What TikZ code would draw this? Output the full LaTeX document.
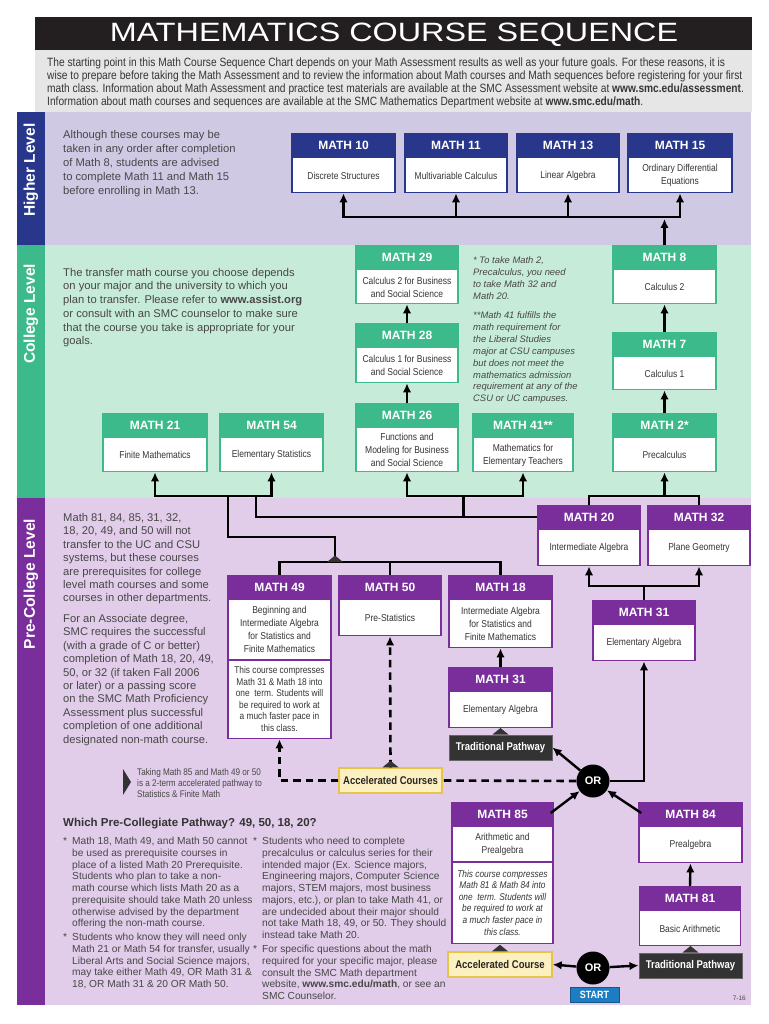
\documentclass[tikz,border=0pt]{standalone}
\usepackage{fontspec}
\usepackage{graphicx}
\setmainfont{Liberation Sans}
\newfontfamily\cond{Liberation Sans}[FakeStretch=0.85]
\usetikzlibrary{calc,arrows.meta}
\definecolor{hblue}{HTML}{28378C}
\definecolor{hfill}{HTML}{D0C9E4}
\definecolor{cgreen}{HTML}{3DBA8B}
\definecolor{cfill}{HTML}{C7EBD9}
\definecolor{ppurple}{HTML}{7A2E9C}
\definecolor{pfill}{HTML}{E1CDE9}
\definecolor{band}{HTML}{E6E6E6}
\definecolor{txt}{HTML}{474747}
\definecolor{desc}{HTML}{353535}
\definecolor{accfill}{HTML}{FDF0C0}
\definecolor{accline}{HTML}{E8C34A}
\definecolor{darkbox}{HTML}{333333}
\definecolor{startblue}{HTML}{1C7DC2}
\definecolor{titlebar}{HTML}{231F20}

\tikzset{
  cbox/.style={draw=#1, fill=white, line width=1.4pt, inner sep=0pt},
  chead/.style={fill=#1, draw=#1, line width=1.4pt, text=white, font=\bfseries\fontsize{12}{12}\selectfont, minimum height=23.5pt, inner sep=0pt},
  cdesc/.style={font=\cond\fontsize{10}{13}\selectfont, text=desc, align=center, inner sep=0pt},
  cnote/.style={font=\cond\fontsize{9.8}{11.6}\selectfont, text=desc, align=center, inner sep=0pt},
  body/.style={font=\fontsize{11.2}{14}\selectfont, text=txt, align=left, inner sep=0pt, anchor=north west},
  bullet/.style={font=\fontsize{10.2}{11.7}\selectfont, text=txt, align=left, inner sep=0pt, anchor=north west},
  conn/.style={line width=2.4pt, line join=miter},
  arr/.style={conn, -{Latex[length=9pt,width=8.5pt]}},
  arrtwo/.style={conn, {Latex[length=9pt,width=8.5pt]}-{Latex[length=9pt,width=8.5pt]}},
  dashc/.style={line width=2.6pt, dash pattern=on 7.5pt off 5pt},
  dasharr/.style={dashc, -{Latex[length=9pt,width=8.5pt]}},
  tpbox/.style={fill=darkbox, draw=black!60, line width=1pt, text=white, font=\cond\bfseries\fontsize{11.2}{12}\selectfont, minimum width=103pt, minimum height=25pt, inner sep=0pt},
  accbox/.style={fill=accfill, draw=accline, line width=1.4pt, text=black!85, font=\cond\bfseries\fontsize{11.2}{12}\selectfont, minimum width=103pt, minimum height=25pt, inner sep=0pt},
  orc/.style={circle, fill=black, text=white, font=\bfseries\fontsize{11}{11}\selectfont, minimum size=33pt, inner sep=0pt},
  startbox/.style={fill=startblue, draw=startblue!70!black, line width=0.8pt, text=white, font=\cond\bfseries\fontsize{10.5}{11}\selectfont, minimum width=49pt, minimum height=15pt, inner sep=0pt},
  levellabel/.style={rotate=90, text=white, font=\bfseries\fontsize{15.5}{16}\selectfont, inner sep=0pt}
}

% #1 name, #2 colour, #3 centre x, #4 top, #5 bottom, #6 title, #7 description, #8 width
\newcommand{\course}[8]{%
  \node[cbox=#2, minimum width=#8pt, minimum height={(#5)-(#4)}, anchor=north] (#1) at (#3,#4) {};
  \node[chead=#2, minimum width=#8pt, anchor=north] (#1h) at (#1.north) {#6};
  \node[cdesc] (#1d) at ($(#1h.south)!0.5!(#1.south)$) {#7};
}
\newcommand{\tent}[1]{\fill[darkbox] ($(#1)+(-8,0)$) -- ($(#1)+(0,-6.5)$) -- ($(#1)+(8,0)$) -- cycle;}

\begin{document}
\begin{tikzpicture}[x=1pt,y=-1pt]
\useasboundingbox (0,0) rectangle (768,1024);
\fill[white] (0,0) rectangle (768,1024);

% ---------- header ----------
\fill[titlebar] (35,17) rectangle (752,50);
\node[text=white, inner sep=0pt] (title) at (394,34.5) {\scalebox{1.22}[1]{\fontsize{26.5}{27}\selectfont MATHEMATICS COURSE SEQUENCE}};
\fill[band] (35,50) rectangle (752,112);
\node[anchor=north west, inner sep=0pt, align=left, text=desc, font=\cond\fontsize{12}{13.2}\selectfont] (intro) at (47,57.5)
 {The starting point in this Math Course Sequence Chart depends on your Math Assessment results as well as your future goals. For these reasons, it is\\
  wise to prepare before taking the Math Assessment and to review the information about Math courses and Math sequences before registering for your first\\
  math class. Information about Math Assessment and practice test materials are available at the SMC Assessment website at \textbf{www.smc.edu/assessment}.\\
  Information about math courses and sequences are available at the SMC Mathematics Department website at \textbf{www.smc.edu/math}.};

% ---------- level bands ----------
\fill[hfill] (45,112) rectangle (751,245);
\fill[hblue] (17,112) rectangle (45,245);
\fill[cfill] (45,245) rectangle (751,498);
\fill[cgreen] (17,245) rectangle (45,498);
\fill[pfill] (45,498) rectangle (751,1005);
\fill[ppurple] (17,498) rectangle (45,1005);
\node[levellabel] (lhigh) at (31,170) {Higher Level};
\node[levellabel] (lcoll) at (31,314) {College Level};
\node[levellabel] (lpre) at (31,584) {Pre-College Level};

% ---------- left texts ----------
\node[body] (thigh) at (63,129.8) {Although these courses may be\\taken in any order after completion\\of Math 8, students are advised\\to complete Math 11 and Math 15\\before enrolling in Math 13.};
\node[body, font=\fontsize{11.2}{13.7}\selectfont] (tcoll) at (63,267.9) {The transfer math course you choose depends\\on your major and the university to which you\\plan to transfer. Please refer to \textbf{www.assist.org}\\or consult with an SMC counselor to make sure\\that the course you take is appropriate for your\\goals.};
\node[body, font=\fontsize{11.2}{13.45}\selectfont] (tpre1) at (63,512.9) {Math 81, 84, 85, 31, 32,\\18, 20, 49, and 50 will not\\transfer to the UC and CSU\\systems, but these courses\\are prerequisites for college\\level math courses and some\\courses in other departments.};
\node[body, font=\fontsize{11.2}{13.45}\selectfont] (tpre2) at (63,613.9) {For an Associate degree,\\SMC requires the successful\\(with a grade of C or better)\\completion of Math 18, 20, 49,\\50, or 32 (if taken Fall 2006\\or later) or a passing score\\on the SMC Math Proficiency\\Assessment plus successful\\completion of one additional\\designated non-math course.};
\node[anchor=north west, inner sep=0pt, align=left, text=txt, font=\itshape\fontsize{9.4}{11.9}\selectfont] (fn1) at (473,256.5) {* To take Math 2,\\Precalculus, you need\\to take Math 32 and\\Math 20.};
\node[anchor=north west, inner sep=0pt, align=left, text=txt, font=\itshape\fontsize{9.4}{11.9}\selectfont] (fn2) at (473,311.5) {**Math 41 fulfills the\\math requirement for\\the Liberal Studies\\major at CSU campuses\\but does not meet the\\mathematics admission\\requirement at any of the\\CSU or UC campuses.};

% ---------- higher level boxes ----------
\course{m10}{hblue}{343.5}{133}{192}{MATH 10}{Discrete Structures}{103}
\course{m11}{hblue}{456}{133}{192}{MATH 11}{Multivariable Calculus}{102}
\course{m13}{hblue}{568}{133}{192}{MATH 13}{Linear Algebra}{102}
\course{m15}{hblue}{680}{133}{192}{MATH 15}{Ordinary Differential\\Equations}{104}

% ---------- college level boxes ----------
\course{m29}{cgreen}{407}{245}{303}{MATH 29}{Calculus 2 for Business\\and Social Science}{102}
\course{m28}{cgreen}{407}{323}{382}{MATH 28}{Calculus 1 for Business\\and Social Science}{102}
\course{m26}{cgreen}{407}{403}{471}{MATH 26}{Functions and\\Modeling for Business\\and Social Science}{102}
\course{m41}{cgreen}{523}{413}{471}{MATH 41**}{Mathematics for\\Elementary Teachers}{100}
\course{m8}{cgreen}{664.5}{245}{303}{MATH 8}{Calculus 2}{103}
\course{m7}{cgreen}{664.5}{332}{389}{MATH 7}{Calculus 1}{103}
\course{m2}{cgreen}{664.5}{413}{471}{MATH 2*}{Precalculus}{103}
\course{m21}{cgreen}{155}{413}{471}{MATH 21}{Finite Mathematics}{104}
\course{m54}{cgreen}{271.5}{413}{471}{MATH 54}{Elementary Statistics}{103}

% ---------- pre-college boxes ----------
\course{m20}{ppurple}{589}{505}{565}{MATH 20}{Intermediate Algebra}{102}
\course{m32}{ppurple}{699}{505}{565}{MATH 32}{Plane Geometry}{102}
\course{m31r}{ppurple}{644}{600}{660}{MATH 31}{Elementary Algebra}{102}
\course{m49}{ppurple}{279.5}{575}{738}{MATH 49}{}{103}
\course{m50}{ppurple}{390}{575}{635}{MATH 50}{Pre-Statistics}{102}
\course{m18}{ppurple}{500.5}{575}{647}{MATH 18}{Intermediate Algebra\\for Statistics and\\Finite Mathematics}{103}
\course{m31l}{ppurple}{500.5}{667}{727}{MATH 31}{Elementary Algebra}{103}
\course{m85}{ppurple}{502.5}{802}{943}{MATH 85}{}{101}
\course{m84}{ppurple}{690.5}{802}{862}{MATH 84}{Prealgebra}{103}
\course{m81}{ppurple}{690}{886}{945}{MATH 81}{Basic Arithmetic}{101}

\coordinate (d49) at (0,660);
\draw[ppurple, line width=1.4pt] (m49.west |- d49) -- (m49.east |- d49);
\node[cdesc] (m49x) at (279.5,629.5) {Beginning and\\Intermediate Algebra\\for Statistics and\\Finite Mathematics};
\node[cnote] (m49n) at (279.5,699) {This course compresses\\Math 31 \& Math 18 into\\one\ \ term. Students will\\be required to work at\\a much faster pace in\\this class.};
\coordinate (d85) at (0,862);
\draw[ppurple, line width=1.4pt] (m85.west |- d85) -- (m85.east |- d85);
\node[cdesc] (m85x) at (502.5,844) {Arithmetic and\\Prealgebra};
\node[cnote, font=\cond\itshape\fontsize{9.8}{11.6}\selectfont] (m85n) at (502.5,902.5) {This course compresses\\Math 81 \& Math 84 into\\one\ \ term. Students will\\be required to work at\\a much faster pace in\\this class.};

% ---------- pathway nodes ----------
\node[tpbox] (tp1) at (500.5,747.5) {Traditional Pathway};
\node[accbox] (acc1) at (390.5,780.5) {Accelerated Courses};
\node[orc] (or1) at (593,781) {OR};
\node[accbox, minimum width=104pt] (acc2) at (500,964.5) {Accelerated Course};
\node[orc] (or2) at (593,968) {OR};
\node[tpbox] (tp2) at (690.5,965.5) {Traditional Pathway};
\node[startbox] (start) at (594.5,994.5) {START};

% ---------- higher connectors ----------
\coordinate (hb) at (0,217);
\coordinate (hb2) at (0,219);
\draw[arrtwo] (m10.south) -- (m10.south |- hb) -- (m15.south |- hb) -- (m15.south);
\draw[arr] (m11.south |- hb) -- (m11.south);
\draw[arr] (m13.south |- hb) -- (m13.south);
\draw[arr] (m8.north) -- (m8.north |- hb2);

% ---------- college connectors ----------
\draw[arr] (m28.north) -- (m29.south);
\draw[arr] (m26.north) -- (m28.south);
\draw[arr] (m7.north) -- (m8.south);
\draw[arr] (m2.north) -- (m7.south);
\coordinate (bb) at (0,496);
\draw[arrtwo] (m21.south) -- (m21.south |- bb) -- (m54.south |- bb) -- (m54.south);
\draw[arrtwo] (m26.south) -- (m26.south |- bb) -- (m41.south |- bb) -- (m41.south);
\draw[conn] (m20.north) -- (m20.north |- bb) -- (m32.north |- bb) -- (m32.north);
\draw[arr] (m2.south |- bb) -- (m2.south);
\coordinate (dy) at (0,517);
\coordinate (dx) at (256,0);
\coordinate (sb) at (463.5,0);
\draw[conn] (m20.west |- dy) -- (dx |- dy) -- (dx |- bb);
\draw[conn] (sb |- bb) -- (sb |- dy);
\coordinate (ex) at (228,0);
\coordinate (ey) at (0,537);
\coordinate (fx) at (335,0);
\coordinate (fy) at (0,562);
\draw[conn] (ex |- bb) -- (ex |- ey) -- (fx |- ey) -- (fx |- fy);
\draw[conn] (m49.north) -- (m49.north |- fy) -- (m18.north |- fy) -- (m18.north);
\draw[conn] (m50.north |- fy) -- (m50.north);
\tent{fx |- fy}

% ---------- pre-college connectors ----------
\coordinate (gy) at (0,586);
\draw[conn] (m31r.north) -- (m31r.north |- gy);
\draw[arrtwo] (m20.south) -- (m20.south |- gy) -- (m32.south |- gy) -- (m32.south);
\draw[arr] (m31l.north) -- (m18.south);
\draw[arr] (or1) -- (tp1.east);
\draw[arr] (or1.east) -- (m31r.south |- or1.east) -- (m31r.south);
\draw[dashc] (or1.west) -- (acc1.east);
\draw[dasharr] (acc1.north) -- (m50.south);
\draw[dasharr] (acc1.west) -- (m49.south |- acc1.west) -- (m49.south);
\draw[arr] ($(m85.north east)+(-3,11)$) -- (or1);
\draw[arr] ($(m84.north west)+(3,11)$) -- (or1);
\draw[arr] (m81.north) -- (m84.south);
\draw[arr] (or2) -- (acc2.east);
\draw[arr] (or2) -- (tp2.west);
\node[startbox] (start2) at (start) {START};
\tent{tp1.north}
\tent{acc1.north}
\tent{acc2.north}
\tent{tp2.north}

% ---------- accelerated note ----------
\fill[darkbox] (123,769) -- (131,782) -- (123,795) -- cycle;
\node[anchor=north west, inner sep=0pt, align=left, text=txt, font=\cond\fontsize{9.6}{11}\selectfont] (accnote) at (137,768.5) {Taking Math 85 and Math 49 or 50\\is a 2-term accelerated pathway to\\Statistics \& Finite Math};

% ---------- bottom text ----------
\node[anchor=north west, inner sep=0pt, text=darkbox, font=\bfseries\fontsize{11.5}{13}\selectfont] (which) at (63,817.7) {Which Pre-Collegiate Pathway? 49, 50, 18, 20?};
\node[bullet] (b1s) at (63,837.2) {*};
\node[bullet] (b1) at (72,837.2) {Math 18, Math 49, and Math 50 cannot\\be used as prerequisite courses in\\place of a listed Math 20 Prerequisite.\\Students who plan to take a non-\\math course which lists Math 20 as a\\prerequisite should take Math 20 unless\\otherwise advised by the department\\offering the non-math course.};
\node[bullet] (b2s) at (63,933.2) {*};
\node[bullet] (b2) at (72,933.2) {Students who know they will need only\\Math 21 or Math 54 for transfer, usually\\Liberal Arts and Social Science majors,\\may take either Math 49, OR Math 31 \&\\18, OR Math 31 \& 20 OR Math 50.};
\node[bullet] (b3s) at (253,837.2) {*};
\node[bullet] (b3) at (262,837.2) {Students who need to complete\\precalculus or calculus series for their\\intended major (Ex. Science majors,\\Engineering majors, Computer Science\\majors, STEM majors, most business\\majors, etc.), or plan to take Math 41, or\\are undecided about their major should\\not take Math 18, 49, or 50. They should\\instead take Math 20.};
\node[bullet] (b4s) at (253,945.2) {*};
\node[bullet] (b4) at (262,945.2) {For specific questions about the math\\required for your specific major, please\\consult the SMC Math department\\website, \textbf{www.smc.edu/math}, or see an\\SMC Counselor.};
\node[anchor=east, inner sep=0pt, text=txt, font=\fontsize{6.5}{7}\selectfont] (ver) at (746,998) {7-16};
\end{tikzpicture}
\end{document}
